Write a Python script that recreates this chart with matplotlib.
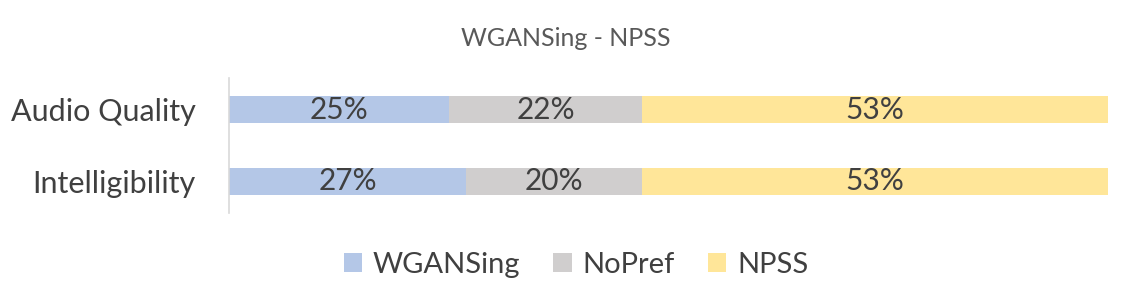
import matplotlib
matplotlib.use("Agg")
import matplotlib.pyplot as plt
from matplotlib.patches import Patch

plt.rcParams['font.family'] = ['Lato', 'DejaVu Sans']

categories = ["Intelligibility", "Audio Quality"]
series_names = ["WGANSing", "NoPref", "NPSS"]
wgansing = [27, 25]
nopref = [20, 22]
npss = [53, 53]
colors = ["#B4C7E7", "#D0CECE", "#FFE699"]
title = "WGANSing - NPSS"

fig = plt.figure(figsize=(11.32, 3.05), dpi=100)
ax = fig.add_axes([229/1132, 1-213/305, (1108-229)/1132, (213-78)/305])

y = list(range(len(categories)))
left = [0]*len(categories)
for vals, c in zip([wgansing, nopref, npss], colors):
    ax.barh(y, vals, left=left, height=0.38, color=c, edgecolor='none')
    for yi, l, v in zip(y, left, vals):
        ax.text(l + v/2, yi, f"{v}%", ha='center', va='center', fontsize=21.5, color='#404040')
    left = [a+b for a, b in zip(left, vals)]

ax.set_xlim(0, 100)
ax.set_ylim(-0.45, 1.45)
ax.set_yticks(y)
ax.set_yticklabels(categories, fontsize=22, color='#404040')
ax.tick_params(axis='y', length=0, pad=24)
ax.set_xticks([])
for s in ['top', 'right', 'bottom']:
    ax.spines[s].set_visible(False)
ax.spines['left'].set_color('#D9D9D9')
ax.spines['left'].set_linewidth(1.2)

fig.text(0.5, 1-38/305, title, ha='center', va='center', fontsize=18, color='#595959')

handles = [Patch(facecolor=c, edgecolor='none') for c in colors]
fig.legend(handles, series_names, loc='center', bbox_to_anchor=(576/1132, 1-265/305),
           ncol=3, frameon=False, fontsize=21, labelcolor='#404040',
           handlelength=0.62, handleheight=0.62, handletextpad=0.38, columnspacing=1.14)

fig.savefig("out.png", dpi=100)
